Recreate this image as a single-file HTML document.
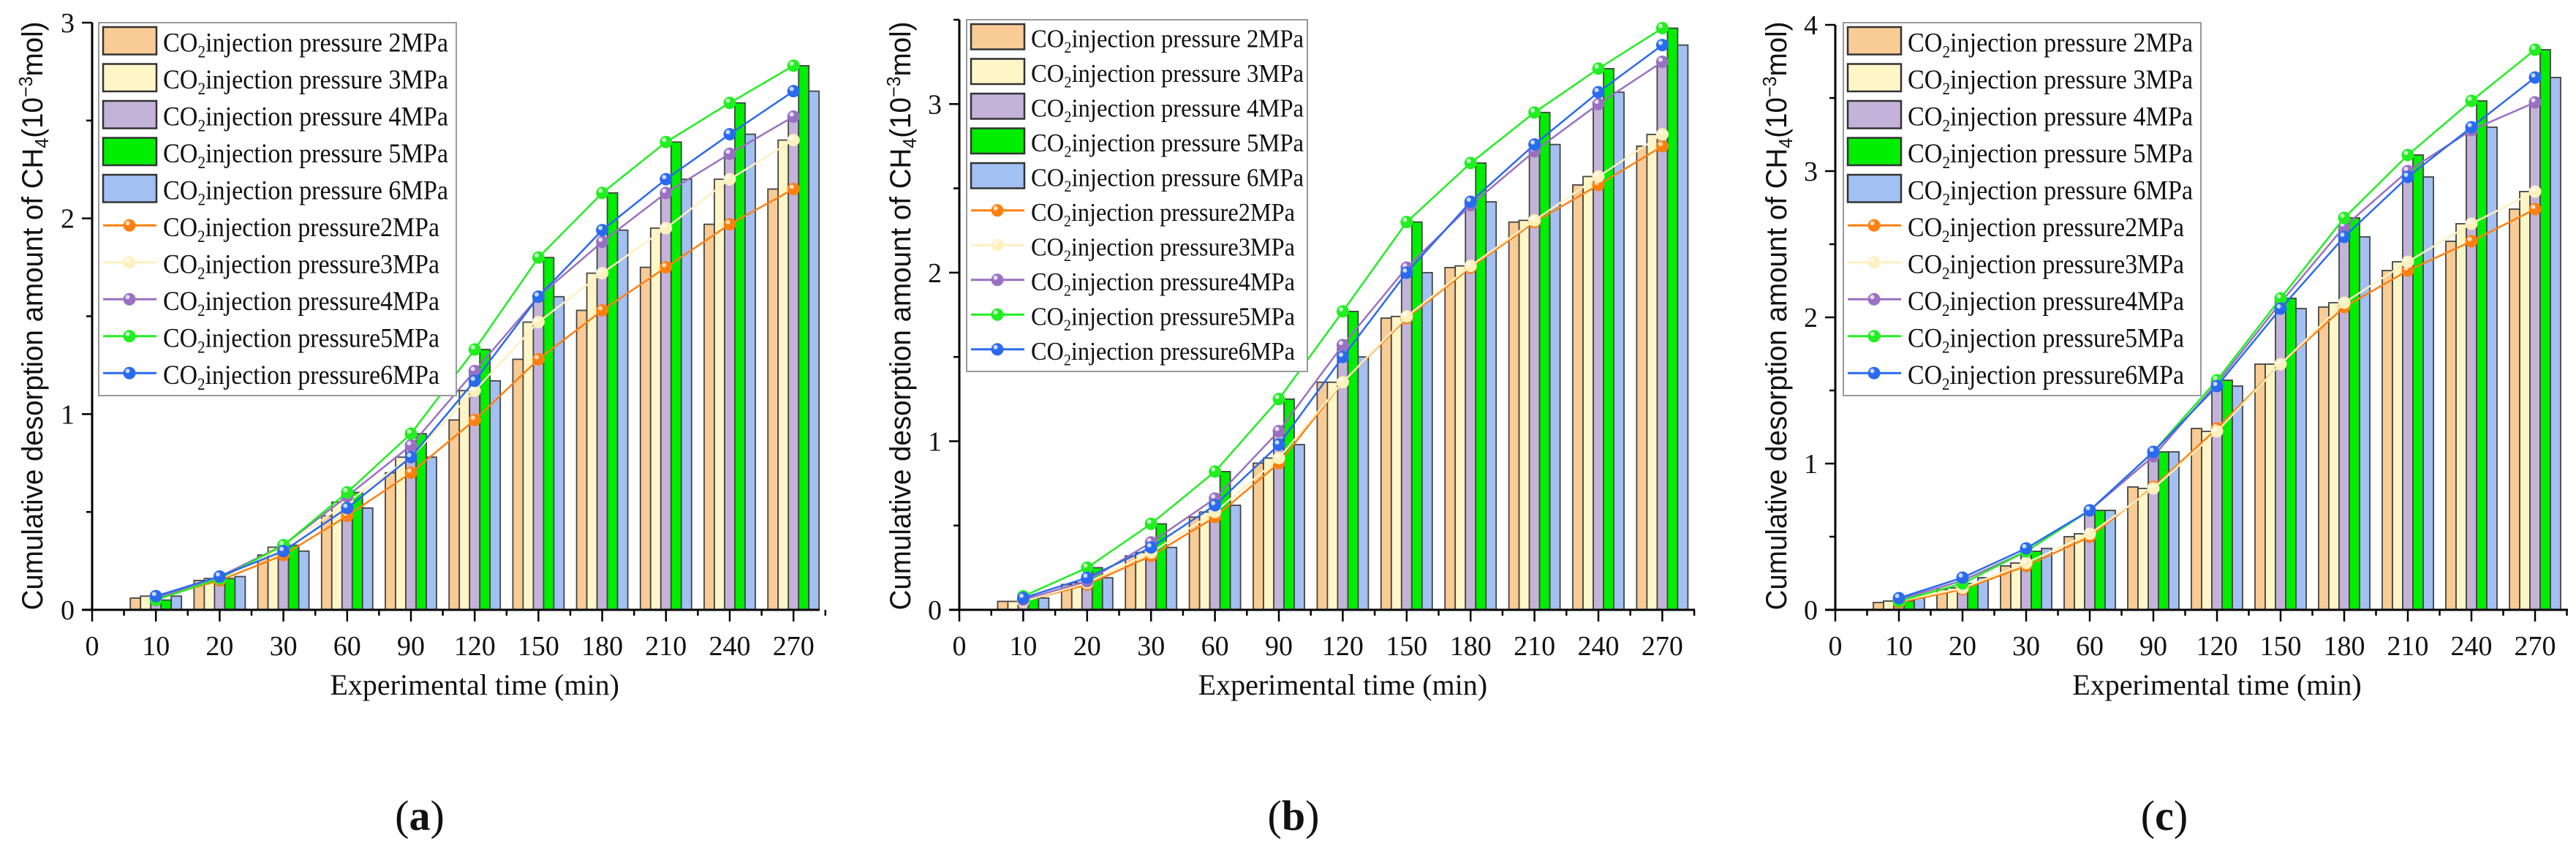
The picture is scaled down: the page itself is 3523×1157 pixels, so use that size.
<!DOCTYPE html>
<html><head><meta charset="utf-8"><style>
body{margin:0;background:#fff;}
svg{display:block;}
text{font-family:"Liberation Serif",serif;fill:#111;}
</style></head><body>
<svg id="chart" width="3523" height="1157" viewBox="0 0 3523 1157" xmlns="http://www.w3.org/2000/svg"></svg>
<script>
const categories = ["10","20","30","60","90","120","150","180","210","240","270"];
const seriesNames = ["2MPa","3MPa","4MPa","5MPa","6MPa"];
// Panel (a)
const a_p2 = [0.06,0.15,0.28,0.48,0.70,0.97,1.28,1.53,1.75,1.97,2.15];
const a_p3 = [0.07,0.16,0.32,0.55,0.78,1.12,1.47,1.72,1.95,2.20,2.40];
const a_p4 = [0.06,0.17,0.33,0.58,0.84,1.22,1.60,1.88,2.13,2.33,2.52];
const a_p5 = [0.05,0.16,0.33,0.60,0.90,1.33,1.80,2.13,2.39,2.59,2.78];
const a_p6 = [0.07,0.17,0.30,0.52,0.78,1.17,1.60,1.94,2.20,2.43,2.65];
const a_ticks = [0,1,2,3];
// Panel (b)
const b_p2 = [0.05,0.15,0.32,0.55,0.87,1.35,1.73,2.03,2.30,2.52,2.75];
const b_p3 = [0.05,0.16,0.34,0.58,0.90,1.35,1.74,2.04,2.31,2.57,2.82];
const b_p4 = [0.06,0.17,0.40,0.66,1.06,1.57,2.03,2.40,2.72,3.00,3.25];
const b_p5 = [0.08,0.25,0.51,0.82,1.25,1.77,2.30,2.65,2.95,3.21,3.45];
const b_p6 = [0.07,0.19,0.37,0.62,0.98,1.50,2.00,2.42,2.76,3.07,3.35];
const b_ticks = [0,1,2,3];
// Panel (c)
const c_p2 = [0.05,0.14,0.30,0.50,0.84,1.24,1.68,2.07,2.32,2.52,2.74];
const c_p3 = [0.06,0.15,0.32,0.52,0.83,1.22,1.68,2.10,2.38,2.64,2.86];
const c_p4 = [0.07,0.20,0.40,0.68,1.05,1.55,2.10,2.62,3.00,3.28,3.47];
const c_p5 = [0.06,0.18,0.40,0.68,1.08,1.57,2.13,2.68,3.11,3.48,3.83];
const c_p6 = [0.08,0.22,0.42,0.68,1.08,1.53,2.06,2.55,2.96,3.30,3.64];
const c_ticks = [0,1,2,3,4];

const barFill = ["#F9CB95","#FFF6C8","#C3B3D9","#00EE00","#A2C0F2"];
const lineCol = ["#FF8010","#FFF0C0","#9A70C2","#22EE22","#2A6AF0"];
const NS = "http://www.w3.org/2000/svg";
const svg = document.getElementById("chart");
function el(tag, attrs, parent, txt){
  const e = document.createElementNS(NS, tag);
  for (const k in attrs) e.setAttribute(k, attrs[k]);
  if (txt !== undefined) e.textContent = txt;
  (parent||svg).appendChild(e);
  return e;
}
function coText(parent, x, y, size, suffix, len){
  const t = el("text",{x:x,y:y,"font-size":size,textLength:len,lengthAdjust:"spacingAndGlyphs"},parent);
  const s1 = document.createElementNS(NS,"tspan"); s1.textContent="CO"; t.appendChild(s1);
  const s2 = document.createElementNS(NS,"tspan"); s2.textContent="2"; s2.setAttribute("font-size",size*0.62); s2.setAttribute("dy",size*0.22); t.appendChild(s2);
  const s3 = document.createElementNS(NS,"tspan"); s3.textContent="injection pressure"+suffix; s3.setAttribute("dy",-size*0.22); t.appendChild(s3);
  return t;
}
function marker(g, x, y, col){
  el("circle",{cx:x,cy:y,r:8.5,fill:col},g);
  el("circle",{cx:x-2.5,cy:y-3,r:3,fill:"#fff","fill-opacity":0.75},g);
}
function panel(cfg){
  const g = el("g",{});
  
  
  const yS = v => cfg.y0 - (v/cfg.ymax)*(cfg.y0-cfg.ytop);
  const xS = i => cfg.ax + (i+1)*cfg.step;
  const bw = 14;
  // bars
  cfg.series.forEach((arr, s) => {
    arr.forEach((v, i) => {
      const r = el("rect",{x:xS(i)-2.5*bw+s*bw, y:yS(v), width:bw, height:cfg.y0-yS(v), fill:barFill[s], stroke:"#444","stroke-width":1.8},g);
      
      
    });
  });
  // lines
  cfg.series.forEach((arr, s) => {
    const pts = arr.map((v,i)=>xS(i)+","+yS(v)).join(" ");
    const pl = el("polyline",{points:pts,fill:"none",stroke:lineCol[s],"stroke-width":2.5},g);
    
    
    arr.forEach((v,i)=>marker(g, xS(i), yS(v), lineCol[s]));
  });
  // axes
  el("line",{x1:cfg.ax,y1:cfg.ytop,x2:cfg.ax,y2:cfg.y0,stroke:"#000","stroke-width":3},g);
  el("line",{x1:cfg.ax-14,y1:cfg.y0,x2:cfg.xend,y2:cfg.y0,stroke:"#000","stroke-width":3},g);
  for (let v=0; v<=cfg.ymax+1e-9; v+=0.5){
    const major = Math.abs(v-Math.round(v))<1e-9;
    el("line",{x1:cfg.ax-(major?14:8),y1:yS(v),x2:cfg.ax,y2:yS(v),stroke:"#000","stroke-width":2.5},g);
  }
  cfg.ticks.forEach(v=>{
    const t = el("text",{x:cfg.ax-24,y:yS(v)+13,"font-size":38,"text-anchor":"end"},g,String(v));
    
    
  });
  for (let i=0;i<=categories.length;i++){
    const x = cfg.ax + i*cfg.step;
    el("line",{x1:x,y1:cfg.y0,x2:x,y2:cfg.y0+16,stroke:"#000","stroke-width":2.5},g);
    el("line",{x1:x+cfg.step/2,y1:cfg.y0,x2:x+cfg.step/2,y2:cfg.y0+8,stroke:"#000","stroke-width":2.5},g);
    const t = el("text",{x:x,y:cfg.y0+62,"font-size":38,"text-anchor":"middle"},g, i===0?"0":categories[i-1]);
    
    
  }
  const xt = el("text",{x:cfg.ax+cfg.step*6,y:950,"font-size":40,"text-anchor":"middle"},g,"Experimental time (min)");
  
  
  const yt = el("text",{transform:`translate(${cfg.ytx},${(cfg.y0+30)/2}) rotate(-90)`,"font-size":40,"text-anchor":"middle",textLength:805,lengthAdjust:"spacingAndGlyphs",style:"font-family:'Liberation Sans',sans-serif"},g);
  
  
  yt.innerHTML = 'Cumulative desorption amount of CH<tspan font-size="26" dy="8">4</tspan><tspan dy="-8">(10</tspan><tspan font-size="26" dy="-14">−3</tspan><tspan dy="14">mol)</tspan>';
  // legend
  const L = cfg.legend;
  const lg = el("g",{},g);
  
  
  el("rect",{x:L.x,y:L.y,width:L.w,height:L.h,fill:"#fff",stroke:"#999","stroke-width":2},lg);
  for (let k=0;k<10;k++){
    const ey = L.y + 6 + k*L.step;
    const s = k%5;
    const eg = el("g",{},lg);
    
    
    if (k<5){
      el("rect",{x:L.x+6,y:ey,width:73,height:L.step-13,fill:barFill[s],stroke:"#333","stroke-width":2.5},eg);
      coText(eg, L.x+88, ey+L.step*0.66, L.fs, " "+seriesNames[s], L.tw);
    } else {
      const cy = ey + (L.step-13)/2;
      el("line",{x1:L.x+6,y1:cy,x2:L.x+79,y2:cy,stroke:lineCol[s],"stroke-width":3},eg);
      marker(eg, L.x+42, cy, lineCol[s]);
      coText(eg, L.x+88, ey+L.step*0.66, L.fs, seriesNames[s], L.tw-12);
    }
  }
  const pl = el("text",{x:cfg.lab,y:1135,"font-size":58,"text-anchor":"middle"},g);
  
  
  pl.innerHTML = '(<tspan font-weight="bold">'+cfg.id+'</tspan>)';
}
panel({id:"a",ax:126,y0:834,ytop:31,ymax:3,step:87.2,xend:1121,ticks:a_ticks,series:[a_p2,a_p3,a_p4,a_p5,a_p6],
  legend:{x:135,y:31,w:489,h:510,step:50.5,fs:37,tw:390},ytx:58,lab:574});
panel({id:"b",ax:1312,y0:834,ytop:27,ymax:3.5,step:87.4,xend:2318,ticks:b_ticks,series:[b_p2,b_p3,b_p4,b_p5,b_p6],
  legend:{x:1322,y:27,w:466,h:481,step:47.5,fs:35,tw:373},ytx:1245,lab:1769});
panel({id:"c",ax:2510,y0:834,ytop:34,ymax:4,step:87,xend:3512,ticks:c_ticks,series:[c_p2,c_p3,c_p4,c_p5,c_p6],
  legend:{x:2521,y:31,w:489,h:510,step:50.5,fs:37,tw:390},ytx:2443,lab:2960});
</script>
</body></html>
